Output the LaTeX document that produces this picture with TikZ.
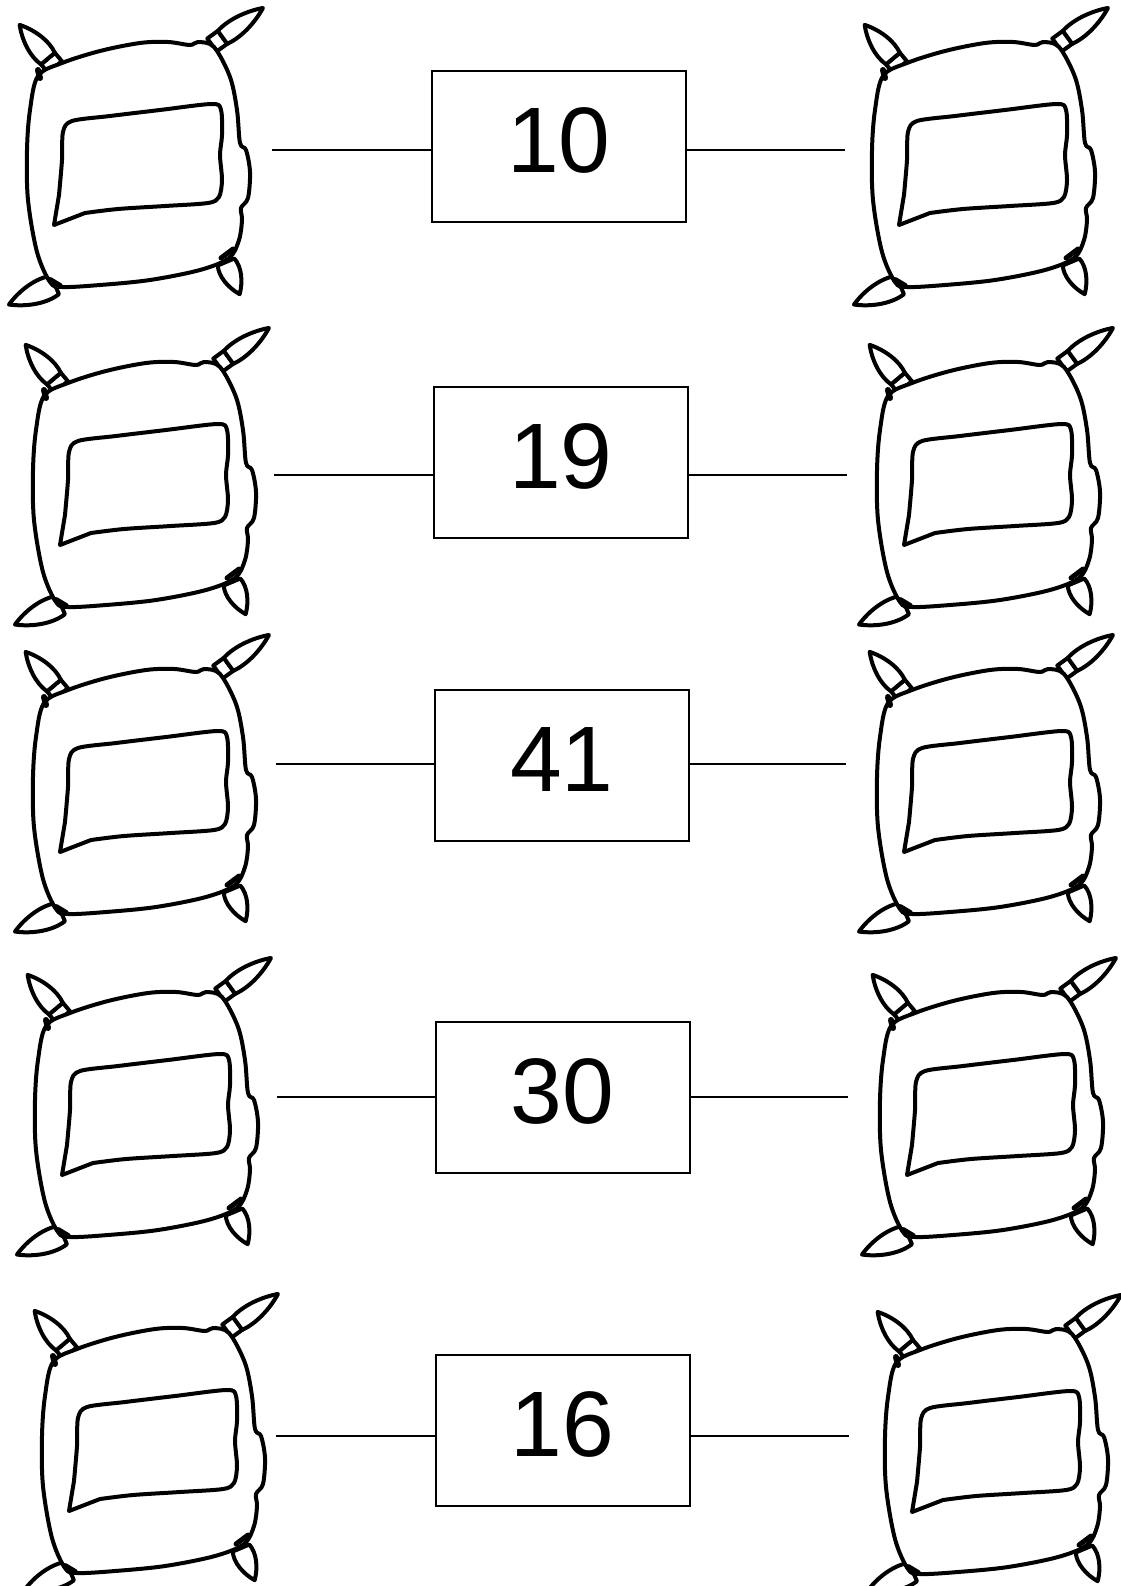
\documentclass[tikz,border=0pt]{standalone}
\usepackage{fontspec}
\setmainfont{Liberation Sans}
\usetikzlibrary{calc}

% one ear of a pillow, pointing along +x: band length, tip, half width
\newcommand{\earleaf}[3]{%
  \ifnum #1>0 \draw[pillowline,fill=white] (0,-#3) rectangle (#1,#3); \fi
  \draw[pillowline,fill=white] (#1,-#3)
    .. controls ({#1+0.3*(#2-#1)},{-1.4*#3}) and ({#2-0.3*(#2-#1)},{-0.9*#3}) .. (#2,0)
    .. controls ({#2-0.3*(#2-#1)},{0.9*#3}) and ({#1+0.3*(#2-#1)},{1.4*#3}) .. (#1,#3) -- cycle;
}

\tikzset{
  pillowline/.style={line width=4pt,line join=round,line cap=round},
  numbox/.style={draw,line width=2pt,minimum width=254pt,minimum height=151pt,inner sep=0pt,
    text depth=12pt,font=\fontsize{93}{93}\selectfont},
  link/.style={line width=1.8pt},
  pics/pillow/.style={code={
    \begin{scope}[shift={(55,67)},rotate=130] \earleaf{11}{55}{9} \end{scope}
    \begin{scope}[shift={(212,45)},rotate=36] \earleaf{13}{63}{8} \end{scope}
    \begin{scope}[shift={(55,285)},rotate=203] \earleaf{0}{50}{10} \end{scope}
    \begin{scope}[shift={(226,262)},rotate=-67] \earleaf{0}{35}{9} \end{scope}
    \draw[pillowline,fill=white] plot[smooth cycle,tension=0.55] coordinates {
      (38,76) (62,63) (100,51) (140,43) (168,42) (190,45) (198,42) (214,47)
      (230,77) (237,110) (240,143) (246,150) (250,172) (248,198) (241,208)
      (242,220) (239,240) (229,258) (200,270) (150,280) (100,285) (62,287)
      (50,282) (37,252) (28,200) (27,150) (30,110)};
    \draw[pillowline] (54,225) -- plot[smooth,tension=0.5] coordinates {
      (59,195) (62,160) (63,132) (72,121) (110,116) (160,110) (212,104) (221,110)
      (222,135) (220,155) (222,180) (219,197) (208,203) (165,206) (118,209) (85,213)} -- cycle;
    \draw[pillowline,line width=5pt] (221,258) -- (233,249);
    \draw[pillowline,line width=6pt] (38,70) -- (40,78);
    \draw[pillowline,line width=6pt] (50,280) -- (60,286);
  }}
}

\begin{document}
\begin{tikzpicture}[x=1pt,y=-1pt]
  \useasboundingbox (0,0) rectangle (1120,1586);

  \pic at (0,0) {pillow};
  \pic at (845,0) {pillow};
  \pic at (6,320) {pillow};
  \pic at (850,320) {pillow};
  \pic at (6,627) {pillow};
  \pic at (850,627) {pillow};
  \pic at (8,950) {pillow};
  \pic at (853,950) {pillow};
  \pic at (15,1286) {pillow};
  \pic at (858,1287) {pillow};

  \node[numbox] (b10) at (559,146.5) {10};
  \node[numbox] (b19) at (561,462.5) {19};
  \node[numbox] (b41) at (562,765.5) {41};
  \node[numbox] (b30) at (562.5,1097.5) {30};
  \node[numbox] (b16) at (562.5,1430.5) {16};

  \coordinate (l1) at (272,150);
  \coordinate (r1) at (845,150);
  \coordinate (l2) at (274,475);
  \coordinate (r2) at (847,475);
  \coordinate (l3) at (276,764);
  \coordinate (r3) at (846,764);
  \coordinate (l4) at (277,1097);
  \coordinate (r4) at (848,1097);
  \coordinate (l5) at (276,1436);
  \coordinate (r5) at (849,1436);

  \draw[link] (l1) -- (l1 -| b10.west) (r1 -| b10.east) -- (r1);
  \draw[link] (l2) -- (l2 -| b19.west) (r2 -| b19.east) -- (r2);
  \draw[link] (l3) -- (l3 -| b41.west) (r3 -| b41.east) -- (r3);
  \draw[link] (l4) -- (l4 -| b30.west) (r4 -| b30.east) -- (r4);
  \draw[link] (l5) -- (l5 -| b16.west) (r5 -| b16.east) -- (r5);
\end{tikzpicture}
\end{document}
